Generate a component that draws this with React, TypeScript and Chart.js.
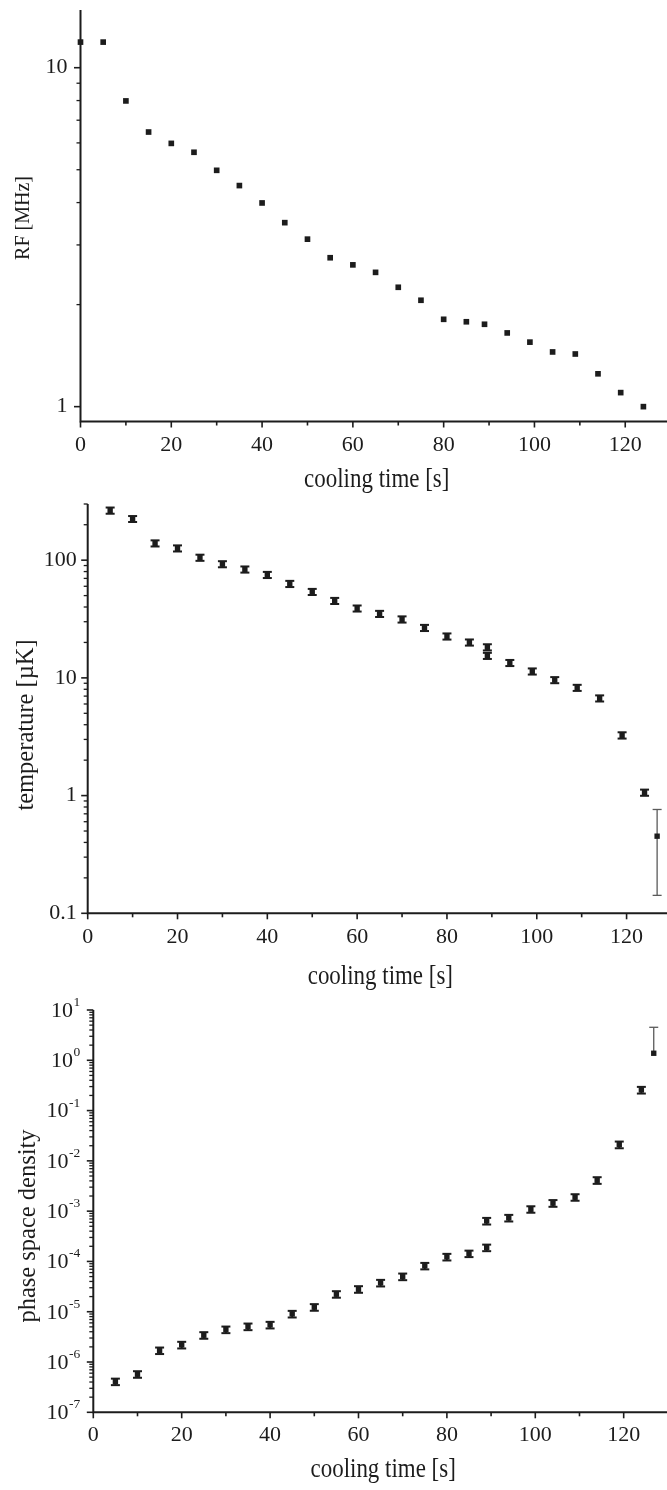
import React, { useEffect, useRef } from "react";
import { Chart, registerables } from "chart.js";

Chart.register(...registerables);

// ---------------- data ----------------
const rfTimes = [0, 5, 10, 15, 20, 25, 30, 35, 40, 45, 50, 55, 60, 65, 70, 75, 80, 85, 89, 94, 99, 104, 109, 114, 119, 124];
const rfValues = [11.9, 11.9, 7.98, 6.46, 5.98, 5.63, 4.98, 4.49, 3.99, 3.49, 3.12, 2.75, 2.62, 2.49, 2.25, 2.06, 1.81, 1.78, 1.75, 1.65, 1.55, 1.45, 1.43, 1.25, 1.1, 1.0];

const times = [5, 10, 15, 20, 25, 30, 35, 40, 45, 50, 55, 60, 65, 70, 75, 80, 85, 89, 89, 94, 99, 104, 109, 114, 119, 124, 126.8];
const tempValues = [264, 224, 139, 126, 105, 92.5, 83.4, 75, 62.9, 53.8, 45.1, 38.9, 35.0, 31.4, 26.6, 22.5, 20.0, 18.2, 15.4, 13.4, 11.35, 9.58, 8.24, 6.7, 3.25, 1.06, 0.452];
const tempErrors = [16, 13, 8.3, 7.5, 6.3, 5.5, 5, 4.5, 3.8, 3.2, 2.7, 2.3, 2.1, 1.9, 1.6, 1.35, 1.2, 1.1, 0.92, 0.8, 0.68, 0.57, 0.49, 0.4, 0.2, 0.064, 0.31];
const psdValues = [4.07e-7, 5.71e-7, 1.69e-6, 2.19e-6, 3.41e-6, 4.41e-6, 5.06e-6, 5.47e-6, 9.04e-6, 1.23e-5, 2.23e-5, 2.8e-5, 3.74e-5, 4.99e-5, 8.15e-5, 1.23e-4, 1.43e-4, 1.88e-4, 6.38e-4, 7.33e-4, 1.09e-3, 1.44e-3, 1.89e-3, 4.11e-3, 2.1e-2, 0.257, 1.38];
const psdErrors = [6e-8, 8.5e-8, 2.5e-7, 3.3e-7, 5.1e-7, 6.6e-7, 7.6e-7, 8.2e-7, 1.36e-6, 1.85e-6, 3.3e-6, 4.2e-6, 5.6e-6, 7.5e-6, 1.2e-5, 1.85e-5, 2.1e-5, 2.8e-5, 9.6e-5, 1.1e-4, 1.6e-4, 2.2e-4, 2.8e-4, 6.2e-4, 3.2e-3, 3.9e-2, 3.15];

const xTickValues = [0, 20, 40, 60, 80, 100, 120];
const xMinorTickValues = [10, 30, 50, 70, 90, 110];
const rfTickValues = [1, 10];
const tempTickValues = [0.1, 1, 10, 100];
const psdTickExponents = [1, 0, -1, -2, -3, -4, -5, -6, -7];

const xTitle = "cooling time [s]";
const rfTitle = "RF [MHz]";
const tempTitle = "temperature [\u00B5K]";
const psdTitle = "phase space density";

// ---------------- styling / layout ----------------
const FONT = "'Liberation Serif', 'Times New Roman', Times, serif";
const INK = "#1c1c1c";
const W = 667;

type Panel = {
  offset: number;
  height: number;
  left: number;
  top: number;
  axisY: number;
  xMax: number;
  yMin: number;
  yMax: number;
  xs: number[];
  ys: number[];
  errs: number[] | null;
  yTicks: number[] | null;
  yExp: number[] | null;
  yTitle: string;
  yTitleSize: number;
  yTitleX: number;
  yTitleY: number;
  xTitleOffset: number;
  xTickPad: number;
  yTickPad: number;
  markerR: number;
};

const PANELS: Panel[] = [
  {
    offset: 0, height: 495, left: 80.5, top: 10, axisY: 421.5, xMax: 129.2,
    yMin: 0.904, yMax: 14.8, xs: rfTimes, ys: rfValues, errs: null,
    yTicks: rfTickValues, yExp: null,
    yTitle: rfTitle, yTitleSize: 20, yTitleX: 24, yTitleY: 218,
    xTitleOffset: 65.5, xTickPad: 11, yTickPad: 13, markerR: 4,
  },
  {
    offset: 495, height: 500, left: 87.7, top: 9, axisY: 418.3, xMax: 129.0,
    yMin: 0.1, yMax: 300, xs: times, ys: tempValues, errs: tempErrors,
    yTicks: tempTickValues, yExp: null,
    yTitle: tempTitle, yTitleSize: 24.5, yTitleX: 27, yTitleY: 230,
    xTitleOffset: 70.5, xTickPad: 11, yTickPad: 11, markerR: 3.8,
  },
  {
    offset: 995, height: 495, left: 93.3, top: 15, axisY: 417.3, xMax: 129.8,
    yMin: 1e-7, yMax: 10, xs: times, ys: psdValues, errs: psdErrors,
    yTicks: null, yExp: psdTickExponents,
    yTitle: psdTitle, yTitleSize: 24.5, yTitleX: 29, yTitleY: 231,
    xTitleOffset: 64.5, xTickPad: 10, yTickPad: 13, markerR: 3.8,
  },
];

function line(ctx: CanvasRenderingContext2D, x1: number, y1: number, x2: number, y2: number) {
  ctx.beginPath();
  ctx.moveTo(x1, y1);
  ctx.lineTo(x2, y2);
  ctx.stroke();
}

function makePlugin(p: Panel, idx: number) {
  return {
    id: "frame" + idx,
    beforeDatasetsDraw(chart: any) {
      const { ctx, chartArea } = chart;
      const xs = chart.scales.x;
      const ys = chart.scales.y;
      ctx.save();
      ctx.strokeStyle = INK;
      ctx.lineCap = "butt";
      // axis lines
      ctx.lineWidth = 2;
      ctx.beginPath();
      ctx.moveTo(chartArea.left, chartArea.top);
      ctx.lineTo(chartArea.left, chartArea.bottom);
      ctx.lineTo(chartArea.right, chartArea.bottom);
      ctx.stroke();
      // x ticks
      ctx.lineWidth = 1.6;
      for (const v of xTickValues) {
        const px = xs.getPixelForValue(v);
        line(ctx, px, chartArea.bottom, px, chartArea.bottom + 6);
      }
      for (const v of xMinorTickValues) {
        const px = xs.getPixelForValue(v);
        line(ctx, px, chartArea.bottom, px, chartArea.bottom + 4);
      }
      // y ticks (majors at decades, minors 2..9)
      const d0 = Math.floor(Math.log10(p.yMin)) - 1;
      const d1 = Math.ceil(Math.log10(p.yMax)) + 1;
      for (let d = d0; d <= d1; d++) {
        for (let k = 1; k <= 9; k++) {
          const v = k * Math.pow(10, d);
          if (v < p.yMin * 0.9999 || v > p.yMax * 1.0001) continue;
          const py = ys.getPixelForValue(v);
          const len = k === 1 ? 6.5 : 4;
          ctx.lineWidth = k === 1 ? 1.6 : 1.3;
          line(ctx, chartArea.left - len, py, chartArea.left, py);
        }
      }
      // error bars
      if (p.errs) {
        for (let i = 0; i < p.ys.length; i++) {
          const px = xs.getPixelForValue(p.xs[i]);
          const v = p.ys[i];
          const e = p.errs[i];
          const yTop = ys.getPixelForValue(v + e);
          const yBot = v - e > 0 ? ys.getPixelForValue(v - e) : null;
          const big = (yBot === null) || (yBot - yTop > 14);
          ctx.strokeStyle = big ? "#5a5a5a" : INK;
          ctx.lineWidth = big ? 1.3 : 2;
          const half = 4.5;
          const yEnd = yBot === null ? ys.getPixelForValue(v) : yBot;
          line(ctx, px, yTop, px, yEnd);
          line(ctx, px - half, yTop, px + half, yTop);
          if (yBot !== null) line(ctx, px - half, yBot, px + half, yBot);
        }
      }
      ctx.restore();
    },
    afterDraw(chart: any) {
      const { ctx, chartArea } = chart;
      const ys = chart.scales.y;
      ctx.save();
      ctx.fillStyle = INK;
      // x title (slightly condensed serif, like the original typesetting)
      ctx.save();
      ctx.translate((chartArea.left + chartArea.right) / 2 + 3, chartArea.bottom + p.xTitleOffset);
      ctx.scale(0.85, 1);
      ctx.font = `27px ${FONT}`;
      ctx.textAlign = "center";
      ctx.textBaseline = "alphabetic";
      ctx.fillText(xTitle, 0, 0);
      ctx.restore();
      // y title
      ctx.save();
      ctx.translate(p.yTitleX, p.yTitleY);
      ctx.rotate(-Math.PI / 2);
      ctx.font = `${p.yTitleSize}px ${FONT}`;
      ctx.textAlign = "center";
      ctx.textBaseline = "middle";
      ctx.fillText(p.yTitle, 0, 0);
      ctx.restore();
      // power-of-ten labels
      if (p.yExp) {
        for (const e of p.yExp) {
          const py = ys.getPixelForValue(Math.pow(10, e));
          const expText = String(e);
          ctx.font = `13.5px ${FONT}`;
          const ew = ctx.measureText(expText).width;
          const xr = chartArea.left - p.yTickPad;
          ctx.textAlign = "right";
          ctx.textBaseline = "middle";
          ctx.fillText(expText, xr, py - 7.5);
          ctx.font = `22px ${FONT}`;
          ctx.fillText("10", xr - ew - 0.5, py + 1);
        }
      }
      ctx.restore();
    },
  };
}

function makeChart(canvas: HTMLCanvasElement, p: Panel, idx: number) {
  const data = p.xs.map((x, i) => ({ x, y: p.ys[i] }));
  return new Chart(canvas, {
    type: "scatter",
    data: {
      datasets: [
        {
          data,
          pointStyle: "rect",
          pointRadius: p.markerR,
          pointHoverRadius: p.markerR,
          backgroundColor: INK,
          borderColor: INK,
          borderWidth: 0,
          clip: false as any,
        },
      ],
    },
    options: {
      responsive: false,
      animation: false,
      devicePixelRatio: 1,
      events: [],
      layout: { autoPadding: false, padding: { top: p.top, left: 0, right: 0, bottom: 0 } },
      plugins: { legend: { display: false }, tooltip: { enabled: false }, title: { display: false } },
      scales: {
        x: {
          type: "linear",
          min: 0,
          max: p.xMax,
          grid: { display: false, drawTicks: false },
          border: { display: false },
          afterBuildTicks: (s: any) => {
            s.ticks = xTickValues.map((v) => ({ value: v }));
          },
          afterFit: (s: any) => {
            s.height = p.height - p.axisY;
            s.paddingLeft = 0;
            s.paddingRight = 0;
          },
          ticks: {
            autoSkip: false,
            maxRotation: 0,
            minRotation: 0,
            padding: p.xTickPad,
            color: INK,
            font: { family: FONT, size: 22 },
            callback: (v: any) => String(v),
          },
        },
        y: {
          type: "logarithmic",
          min: p.yMin,
          max: p.yMax,
          grid: { display: false, drawTicks: false },
          border: { display: false },
          afterBuildTicks: (s: any) => {
            const vals = p.yTicks ? p.yTicks : (p.yExp || []).map((e) => Math.pow(10, e));
            s.ticks = vals.map((v) => ({ value: v }));
          },
          afterFit: (s: any) => {
            s.width = p.left;
            s.paddingTop = 0;
            s.paddingBottom = 0;
          },
          ticks: {
            display: !!p.yTicks,
            autoSkip: false,
            padding: p.yTickPad,
            color: INK,
            font: { family: FONT, size: 22 },
            callback: (v: any) => String(v),
          },
        },
      },
    } as any,
    plugins: [makePlugin(p, idx)],
  });
}

export default function App() {
  const refs = useRef<(HTMLCanvasElement | null)[]>([]);
  useEffect(() => {
    const charts = PANELS.map((p, i) => makeChart(refs.current[i] as HTMLCanvasElement, p, i));
    return () => charts.forEach((c) => c.destroy());
  }, []);
  return (
    <div style={{ position: "absolute", left: 0, top: 0, width: W, height: 1490, background: "#fff", overflow: "hidden" }}>
      {PANELS.map((p, i) => (
        <canvas
          key={i}
          ref={(el) => {
            refs.current[i] = el;
          }}
          width={W}
          height={p.height}
          style={{ position: "absolute", left: 0, top: p.offset, width: W, height: p.height, display: "block" }}
        />
      ))}
    </div>
  );
}
